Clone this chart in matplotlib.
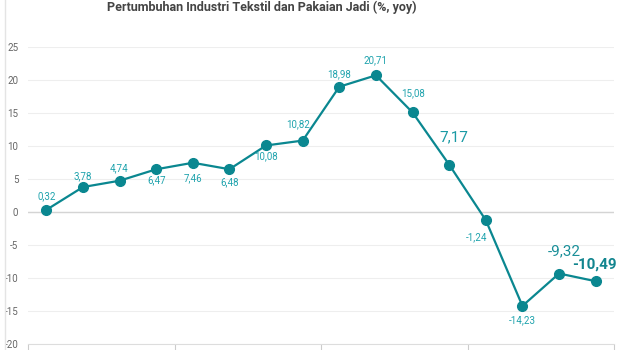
import matplotlib
matplotlib.use("Agg")
import matplotlib.pyplot as plt
from matplotlib.lines import Line2D

plt.rcParams['font.family'] = ['Roboto', 'DejaVu Sans']

title = "Pertumbuhan Industri Tekstil dan Pakaian Jadi (%, yoy)"
periods = ["Q1-17", "Q2-17", "Q3-17", "Q4-17",
           "Q1-18", "Q2-18", "Q3-18", "Q4-18",
           "Q1-19", "Q2-19", "Q3-19", "Q4-19",
           "Q1-20", "Q2-20", "Q3-20", "Q4-20"]
values = [0.32, 3.78, 4.74, 6.47, 7.46, 6.48, 10.08, 10.82,
          18.98, 20.71, 15.08, 7.17, -1.24, -14.23, -9.32, -10.49]
labels = ["0,32", "3,78", "4,74", "6,47", "7,46", "6,48", "10,08", "10,82",
          "18,98", "20,71", "15,08", "7,17", "-1,24", "-14,23", "-9,32", "-10,49"]
yticks = [-20, -15, -10, -5, 0, 5, 10, 15, 20, 25]

# label offsets in points (dx, dy), font size, weight, colour
label_style = [
    ((0, 10), 7, 'normal', '#1fa3ad'),
    ((0, 8), 7, 'normal', '#1fa3ad'),
    ((0, 9), 7, 'normal', '#1fa3ad'),
    ((0, -8), 7, 'normal', '#1fa3ad'),
    ((0, -11), 7, 'normal', '#1fa3ad'),
    ((0, -9), 7, 'normal', '#1fa3ad'),
    ((0, -8), 7, 'normal', '#1fa3ad'),
    ((-3, 12), 7, 'normal', '#1fa3ad'),
    ((0, 9), 7, 'normal', '#1fa3ad'),
    ((0, 11), 7, 'normal', '#1fa3ad'),
    ((0, 14), 7, 'normal', '#1fa3ad'),
    ((3, 20), 11, 'normal', '#1a9aa4'),
    ((-7, -12), 7, 'normal', '#1fa3ad'),
    ((0, -10), 7, 'normal', '#1fa3ad'),
    ((4, 16), 11, 'normal', '#1a8f99'),
    ((-1, 12), 11, 'bold', '#12858f'),
]

fig = plt.figure(figsize=(6.2, 3.5), dpi=100)
ax = fig.add_axes([28/620, 1 - 344/350, (614 - 28)/620, (344 - 47)/350])

x = list(range(len(values)))
ax.plot(x, values, color='#0a8790', lw=1.6, marker='o', ms=7, zorder=3)

for xi, v, lab, (off, fs, fw, col) in zip(x, values, labels, label_style):
    ax.annotate(lab, (xi, v), xytext=off, textcoords='offset points',
                ha='center', va='center', fontsize=fs, fontweight=fw, color=col)

ax.set_xlim(-0.5, len(values) - 0.5)
ax.set_ylim(-20, 25)
ax.set_yticks(yticks)
ax.set_yticklabels([str(t) for t in yticks])
ax.tick_params(axis='y', length=0, pad=7, labelsize=7, labelcolor='#666666')
ax.grid(axis='y', color='#eeeeee', lw=0.8)
ax.axhline(0, color='#d4d4d4', lw=1, zorder=1)

ax.set_xticks([-0.5, 3.5, 7.5, 11.5, 15.5])
ax.set_xticklabels([])
ax.tick_params(axis='x', length=6, color='#cccccc', width=0.8)
ax.set_xticks(x, minor=True)
ax.set_xticklabels([], minor=True)
ax.tick_params(axis='x', which='minor', length=0)

for s in ['top', 'right', 'left']:
    ax.spines[s].set_visible(False)
ax.spines['bottom'].set_color('#dddddd')
ax.spines['bottom'].set_linewidth(0.8)
ax.set_axisbelow(True)

fig.text(262/620, 1 - 7/350, title, ha='center', va='center',
         fontsize=9, fontweight='bold', color='#444444')
fig.add_artist(Line2D([5/620, 5/620], [0, 1], color='#e4e4e4', lw=1,
                      transform=fig.transFigure))

fig.savefig('out.png', dpi=100)
